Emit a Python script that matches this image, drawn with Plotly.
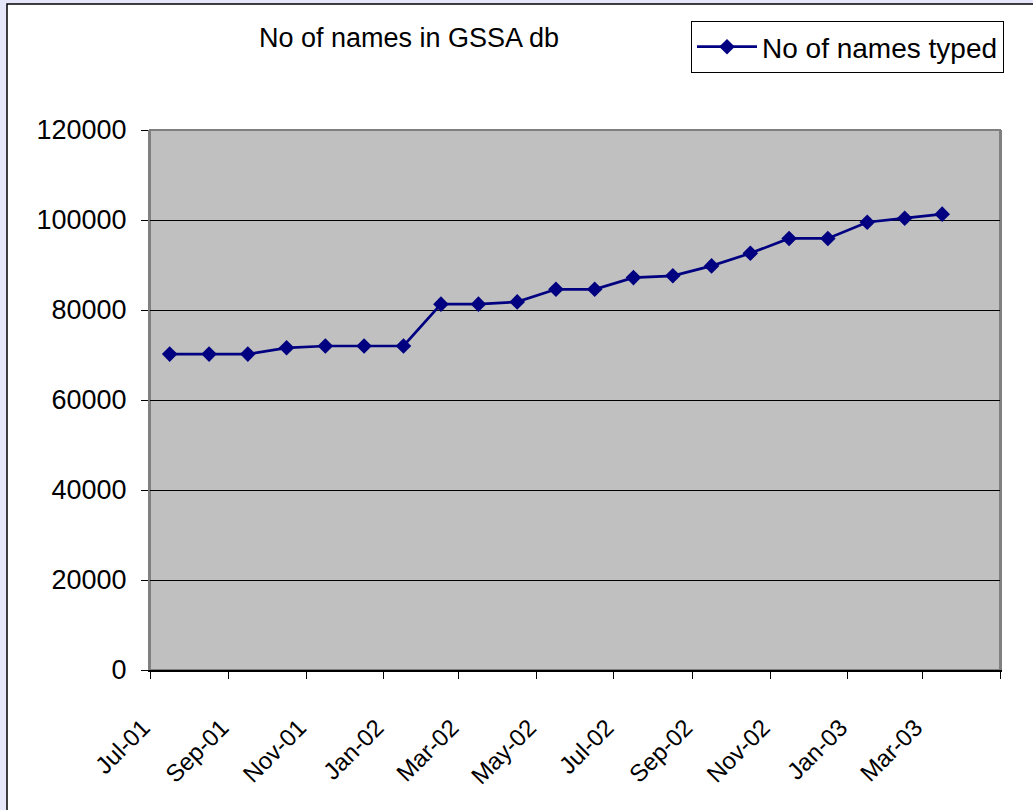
import plotly.graph_objects as go

# Data
months = ["2001-07-01", "2001-08-01", "2001-09-01", "2001-10-01", "2001-11-01", "2001-12-01",
          "2002-01-01", "2002-02-01", "2002-03-01", "2002-04-01", "2002-05-01", "2002-06-01",
          "2002-07-01", "2002-08-01", "2002-09-01", "2002-10-01", "2002-11-01", "2002-12-01",
          "2003-01-01", "2003-02-01", "2003-03-01"]
names_typed = [70200, 70200, 70200, 71600, 72000, 72000, 72000, 81300, 81300, 81800,
               84600, 84600, 87200, 87600, 89800, 92600, 95900, 95900, 99500, 100400, 101300]
tick_dates = ["2001-07-01", "2001-09-01", "2001-11-01", "2002-01-01", "2002-03-01", "2002-05-01",
              "2002-07-01", "2002-09-01", "2002-11-01", "2003-01-01", "2003-03-01", "2003-05-01"]
tick_labels = ["Jul-01", "Sep-01", "Nov-01", "Jan-02", "Mar-02", "May-02",
               "Jul-02", "Sep-02", "Nov-02", "Jan-03", "Mar-03", ""]
y_ticks = [0, 20000, 40000, 60000, 80000, 100000, 120000]

FONT = "Liberation Sans, Arial, sans-serif"
FS = 27
W, H = 1033, 810
L, R, T, B = 150, 33, 130, 140
pw, ph = W - L - R, H - T - B


def px_x(p):
    return (p - L) / pw


def px_y(p):
    return (H - B - p) / ph


fig = go.Figure()
fig.add_trace(go.Scatter(
    x=months, y=names_typed, name="No of names typed",
    mode="lines+markers",
    xperiod="M1", xperiodalignment="middle",
    line=dict(color="#000080", width=2.7),
    marker=dict(symbol="diamond", size=12, color="#000080"),
))

shapes = [
    # white chart area with black frame (cropped on right / bottom)
    dict(type="rect", xref="paper", yref="paper", layer="below",
         x0=px_x(7), x1=px_x(W + 20), y0=px_y(H + 20), y1=px_y(4),
         fillcolor="white", line=dict(color="black", width=1.5)),
    # grey plot area
    dict(type="rect", xref="paper", yref="paper", layer="below",
         x0=0, x1=1, y0=0, y1=1,
         fillcolor="#C0C0C0", line=dict(color="#808080", width=2)),
]

fig.update_layout(
    width=W, height=H,
    margin=dict(l=L, r=R, t=T, b=B),
    paper_bgcolor="#E6E6FA",
    plot_bgcolor="#C0C0C0",
    font=dict(family=FONT, size=FS, color="black"),
    title=dict(text="No of names in GSSA db", x=409 / W, xanchor="center",
               y=1 - 38 / H, yanchor="middle", font=dict(size=FS)),
    showlegend=True,
    legend=dict(x=px_x(691), y=px_y(21), xanchor="left", yanchor="top",
                bgcolor="white", bordercolor="black", borderwidth=1,
                font=dict(size=28), itemwidth=60),
    shapes=shapes,
)

fig.update_xaxes(
    type="date", range=["2001-07-01", "2003-05-01"],
    tickvals=tick_dates, ticktext=tick_labels, tickangle=-45,
    tickfont=dict(size=24),
    showgrid=False, zeroline=False,
    showline=True, linecolor="black", linewidth=2,
    ticks="outside", ticklen=7, tickcolor="black", tickwidth=1,
    ticklabelstandoff=25, ticklabelshift=-7,
)
fig.update_yaxes(
    range=[0, 120000], tickvals=y_ticks, tickformat="d",
    showgrid=True, gridcolor="black", gridwidth=1, zeroline=False,
    showline=True, linecolor="#808080", linewidth=2, mirror=True,
    ticks="outside", ticklen=7, tickcolor="black", tickwidth=1,
    ticklabelstandoff=9,
)

fig.write_html(
    "out.html",
    config={"displayModeBar": False},
    post_script="document.body.style.margin='0';document.body.style.overflow='hidden';"
                "document.body.style.background='#E6E6FA';",
)
